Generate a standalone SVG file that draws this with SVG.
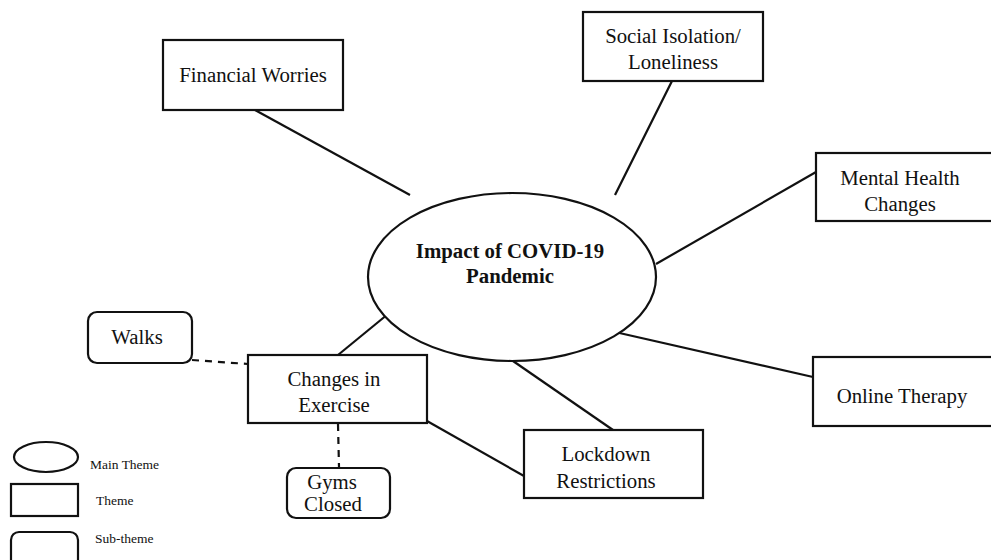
<svg xmlns="http://www.w3.org/2000/svg" width="991" height="560" viewBox="0 0 991 560">
<style>
.box{fill:#fff;stroke:#111;stroke-width:2.2}
.con{stroke:#111;stroke-width:2.2;fill:none}
.dash{stroke:#111;stroke-width:2.2;fill:none;stroke-dasharray:7 6}
text{font-family:"Liberation Serif","Times New Roman",serif;fill:#111;text-anchor:middle}
.t{font-size:20.8px}
.b{font-size:20.8px;font-weight:bold}
.l{font-size:13.5px;text-anchor:start}
</style>
<rect width="991" height="560" fill="#fff"/>
<g id="connectors">
<line class="con" x1="255" y1="110" x2="410" y2="195"/>
<line class="con" x1="672" y1="81" x2="615" y2="195"/>
<line class="con" x1="816" y1="172" x2="656" y2="264"/>
<line class="con" x1="615" y1="332" x2="813" y2="377"/>
<line class="con" x1="513" y1="361" x2="613" y2="430"/>
<line class="con" x1="338" y1="355" x2="388" y2="314"/>
<line class="con" x1="427" y1="421" x2="524" y2="476"/>
<line class="dash" x1="192" y1="360" x2="248" y2="364"/>
<line class="dash" x1="338" y1="424" x2="339" y2="467"/>
</g>
<g id="main">
<ellipse class="box" cx="512" cy="277" rx="144" ry="84"/>
<text class="b" x="510" y="258">Impact of COVID-19</text>
<text class="b" x="510" y="283">Pandemic</text>
</g>
<g id="financial">
<rect class="box" x="163" y="40" width="180" height="70"/>
<text class="t" x="253" y="82">Financial Worries</text>
</g>
<g id="social">
<rect class="box" x="583" y="12" width="180" height="69"/>
<text class="t" x="673" y="43">Social Isolation/</text>
<text class="t" x="673" y="69">Loneliness</text>
</g>
<g id="mental">
<rect class="box" x="816" y="153" width="190" height="68"/>
<text class="t" x="900" y="185">Mental Health</text>
<text class="t" x="900" y="211">Changes</text>
</g>
<g id="online">
<rect class="box" x="813" y="357" width="190" height="69"/>
<text class="t" x="902" y="403">Online Therapy</text>
</g>
<g id="lockdown">
<rect class="box" x="524" y="430" width="179" height="68"/>
<text class="t" x="606" y="461">Lockdown</text>
<text class="t" x="606" y="488">Restrictions</text>
</g>
<g id="exercise">
<rect class="box" x="248" y="355" width="179" height="68"/>
<text class="t" x="334" y="386">Changes in</text>
<text class="t" x="334" y="412">Exercise</text>
</g>
<g id="walks">
<rect class="box" x="88" y="312" width="104" height="51" rx="9"/>
<text class="t" x="137" y="344">Walks</text>
</g>
<g id="gyms">
<rect class="box" x="287" y="468" width="103" height="50" rx="9"/>
<text class="t" x="332" y="489">Gyms</text>
<text class="t" x="333" y="511">Closed</text>
</g>
<g id="legend">
<ellipse class="box" cx="46" cy="457" rx="32" ry="15"/>
<text class="l" x="90" y="469">Main Theme</text>
<rect class="box" x="11" y="484" width="67" height="32"/>
<text class="l" x="96" y="505">Theme</text>
<rect class="box" x="11" y="532" width="67" height="40" rx="8"/>
<text class="l" x="95" y="543">Sub-theme</text>
</g>
</svg>
